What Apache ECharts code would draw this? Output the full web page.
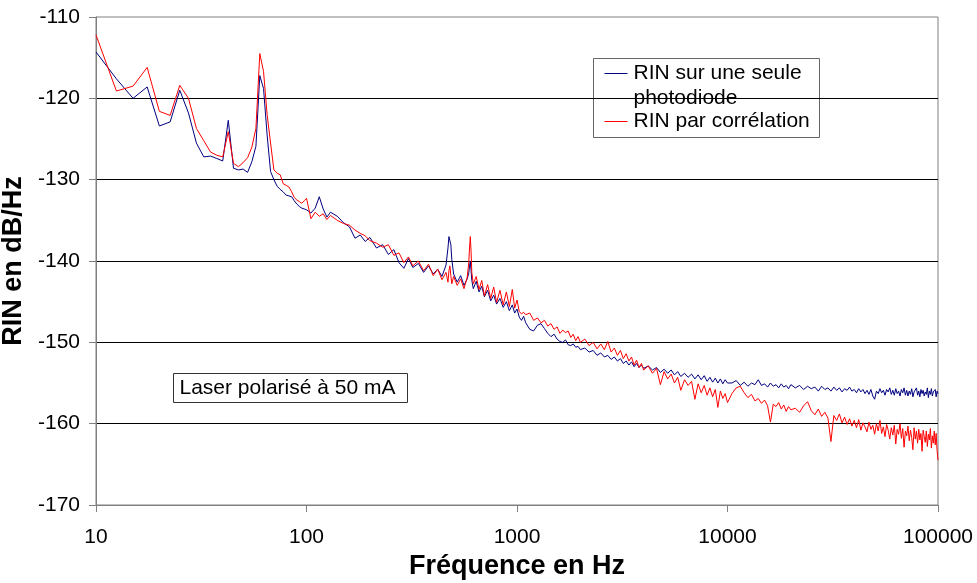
<!DOCTYPE html>
<html>
<head>
<meta charset="utf-8">
<script src="https://cdn.jsdelivr.net/npm/echarts@6/dist/echarts.min.js"></script>
<style>
  html, body { margin: 0; padding: 0; background: #fff; }
  #chart { width: 977px; height: 583px; }
</style>
</head>
<body>
<div id="chart"></div>
<script>
// axis ticks
const yTicks = [-170, -160, -150, -140, -130, -120, -110];

// 10 - 100 Hz
const freqLow = [10, 12.5, 15, 17.5, 20, 22.5, 25, 27.5, 30, 32.5, 35, 37.5, 40, 42.5, 45, 47.5, 50, 52.5, 55, 57.5,
  60, 62.5, 65, 67.5, 70, 72.5, 75, 77.5, 80, 82.5, 85, 87.5, 90, 92.5, 95, 97.5, 100];
const blueLow = [-114.3, -117.6, -120.0, -118.6, -123.4, -122.9, -119.0, -121.8, -125.5, -127.2, -127.1, -127.4, -127.7, -122.7,
  -128.6, -128.8, -128.7, -129.1, -127.8, -125.9, -117.2, -118.8, -124.5, -129.0, -130.0, -130.8, -131.2, -131.5, -131.9,
  -132.0, -132.1, -132.6, -133.0, -133.3, -133.5, -133.6, -133.7];
const redLow = [-112.2, -119.1, -118.5, -116.2, -121.6, -122.1, -118.4, -120.0, -123.7, -125.2, -126.6, -127.0, -127.2, -124.1,
  -128.0, -128.4, -127.9, -127.3, -126.0, -123.7, -114.5, -116.7, -122.0, -125.5, -128.8, -129.2, -129.4, -130.5, -130.7,
  -130.9, -131.5, -132.2, -132.5, -132.7, -132.9, -132.6, -132.3];

// 100 - 1000 Hz
const freqMid = [105, 110, 115, 120, 125, 130, 140, 150, 160, 170, 180, 190, 200, 215, 230, 245, 260, 275, 290, 305,
  320, 340, 360, 380, 400, 420, 440, 460, 470, 475, 480, 485, 490, 500, 520, 540, 560, 580, 590, 595,
  600, 605, 610, 620, 640, 660, 680, 700, 725, 750, 775, 800, 830, 860, 890, 920, 950, 975, 1000];
const blueMid = [-134.1, -133.5, -132.1, -133.6, -134.6, -134.0, -134.5, -135.3, -135.8, -137.2, -136.8, -137.6, -137.1, -138.4,
  -138.0, -139.2, -138.6, -140.2, -140.9, -139.7, -140.8, -140.3, -141.4, -140.6, -141.6, -141.0, -141.9, -140.5, -138.4,
  -137.0, -137.2, -138.0, -139.8, -141.6, -142.6, -141.8, -143.0, -142.2, -141.5, -140.6, -140.0, -141.2, -142.4, -143.4,
  -142.5, -143.8, -143.1, -144.4, -143.6, -144.9, -144.2, -145.3, -144.6, -145.7, -145.0, -146.1, -145.4, -146.4, -145.9];
const redMid = [-134.8, -134.0, -134.5, -134.2, -134.9, -134.4, -135.0, -135.4, -135.6, -136.2, -136.6, -136.9, -137.5, -137.8,
  -138.3, -138.0, -139.3, -139.0, -140.2, -139.5, -140.6, -140.0, -141.2, -140.4, -141.8, -141.0, -142.3, -141.4, -142.6,
  -141.2, -140.6, -141.8, -142.8, -141.9, -143.0, -142.2, -143.4, -142.0, -140.2, -138.4, -137.0, -138.8, -141.4, -142.8,
  -141.9, -143.5, -142.4, -144.3, -142.9, -144.6, -143.2, -145.1, -143.6, -145.4, -143.8, -145.6, -143.5, -145.8, -144.8];

// 1 kHz - 10 kHz
const freqHigh = [1025, 1050, 1075, 1100, 1150, 1200, 1250, 1300, 1350, 1400, 1450, 1500, 1550, 1600, 1650, 1700, 1750,
  1800, 1850, 1900, 1950, 2000, 2100, 2200, 2300, 2400, 2500, 2600, 2700, 2800, 2900, 3000, 3100, 3200, 3300, 3400,
  3500, 3600, 3700, 3800, 3900, 4000, 4200, 4400, 4600, 4800, 5000, 5200, 5400, 5600, 5800, 6000, 6250, 6500, 6750,
  7000, 7250, 7500, 7750, 8000, 8250, 8500, 8750, 9000, 9250, 9500, 9750, 10000];
const blueHigh = [-146.9, -147.3, -146.8, -147.6, -148.4, -148.6, -147.9, -147.7, -148.3, -148.9, -149.3, -149.0, -149.6,
  -149.9, -150.0, -149.7, -150.3, -150.4, -150.2, -150.6, -150.5, -150.9, -150.7, -151.2, -151.0, -151.6, -151.3, -151.8,
  -151.6, -152.1, -151.8, -152.3, -152.0, -152.6, -152.3, -152.8, -152.4, -153.0, -152.6, -153.1, -152.8, -153.2, -152.9,
  -153.4, -153.1, -153.7, -153.3, -153.8, -153.4, -154.0, -153.6, -154.2, -153.8, -154.3, -153.9, -154.5, -154.0, -154.6,
  -154.1, -154.8, -154.3, -154.9, -154.4, -155.0, -154.5, -155.1, -154.6, -155.0];
const redHigh = [-146.2, -146.5, -146.3, -146.6, -146.4, -147.3, -147.0, -147.6, -147.3, -148.0, -147.7, -148.4, -148.1,
  -148.9, -148.5, -148.8, -148.6, -149.4, -149.0, -149.8, -149.3, -150.0, -149.6, -150.4, -150.0, -150.8, -150.2, -150.9,
  -149.9, -151.2, -150.7, -151.6, -151.0, -152.0, -151.4, -152.3, -151.8, -152.8, -152.2, -153.1, -152.6, -153.4, -152.9,
  -153.8, -153.2, -155.2, -153.6, -154.5, -153.9, -155.0, -154.3, -155.9, -154.6, -155.3, -154.8, -157.0, -155.1, -156.2,
  -155.3, -156.5, -155.6, -156.7, -155.8, -158.0, -156.0, -156.9, -156.3, -157.4];

// 10 kHz - 100 kHz
const freqTop = [10500, 11000, 11500, 12000, 12500, 13000, 13500, 14000, 14500, 15000, 15500, 16000, 16500, 17000, 17500,
  18000, 18500, 19000, 19500, 20000,
  21000, 22000, 23000, 24000, 25000, 26000, 27000, 28000, 29000, 30000,
  31000, 32000, 33000, 34000, 35000, 36000, 37000, 38000, 39000, 40000,
  41000, 42000, 43000, 44000, 45000, 46000, 47000, 48000, 49000, 50000,
  51000, 52000, 53000, 54000, 55000, 56000, 57000, 58000, 59000, 60000,
  61000, 62000, 63000, 64000, 65000, 66000, 67000, 68000, 69000, 70000,
  71000, 72000, 73000, 74000, 75000, 76000, 77000, 78000, 79000, 80000,
  81000, 82000, 83000, 84000, 85000, 86000, 87000, 88000, 89000, 90000,
  91000, 92000, 93000, 94000, 95000, 96000, 97000, 98000, 99000, 100000];
const blueTop = [-155.0, -154.7, -155.3, -154.9, -155.4, -155.0, -155.2, -154.6, -155.3, -155.1, -155.5, -155.0, -155.4,
  -155.2, -155.6, -155.1, -155.5, -155.3, -155.7, -155.2,
  -155.6, -155.3, -155.8, -155.4, -155.7, -155.5, -156.0, -155.4, -155.8, -155.6,
  -156.0, -155.5, -155.9, -155.6, -156.1, -155.7, -155.9, -155.5, -156.0, -155.8,
  -156.2, -155.7, -156.1, -155.8, -156.3, -155.9, -156.4, -155.8, -156.6, -157.0,
  -156.0, -156.3, -155.7, -156.2, -155.9, -156.5, -155.8, -156.1, -155.6, -156.4,
  -155.9, -156.5, -155.7, -156.3, -156.0, -156.6, -155.8, -156.2, -155.6, -156.5,
  -155.9, -156.6, -156.0, -156.4, -155.7, -156.7, -156.1, -156.3, -155.6, -156.5,
  -156.0, -156.7, -155.8, -156.3, -155.9, -156.6, -156.1, -156.4, -155.6, -156.8,
  -156.0, -156.4, -155.7, -156.6, -156.1, -156.3, -155.8, -156.7, -156.0, -156.3];
const redTop = [-156.3, -155.6, -155.4, -156.2, -156.8, -156.4, -157.2, -156.9, -157.5, -157.1, -157.8, -159.8, -157.6,
  -157.9, -157.4, -158.2, -157.7, -158.5, -157.9, -158.3,
  -158.1, -158.6, -157.8, -157.3, -158.4, -158.9, -158.2, -159.1, -158.6, -159.3,
  -162.2, -159.0, -159.6, -158.8, -159.9, -159.2, -160.1, -159.4, -160.3, -159.6,
  -160.5, -159.5, -160.8, -159.9, -160.4, -161.0, -159.8, -160.7, -160.2, -161.3,
  -160.0, -160.9, -159.6, -161.2, -160.4, -161.6, -160.1, -160.8, -161.9, -160.5,
  -161.4, -160.2, -162.5, -160.7, -161.3, -160.0, -161.8, -160.6, -162.9, -160.9,
  -161.5, -160.3, -162.1, -160.8, -161.7, -163.2, -160.5, -161.9, -160.9, -162.4,
  -160.7, -162.0, -161.2, -163.4, -160.8, -161.6, -162.3, -160.9, -162.8, -161.3,
  -162.0, -160.6, -163.0, -161.5, -162.4, -160.9, -162.6, -161.2, -163.3, -164.5];

const seriesNames = ['RIN sur une seule photodiode', 'RIN par corrélation'];
const seriesColors = ['#000080', '#ff0000'];

const freq = [].concat(freqLow, freqMid, freqHigh, freqTop);
const blue = [].concat(blueLow, blueMid, blueHigh, blueTop);
const red = [].concat(redLow, redMid, redHigh, redTop);

const pairs = (xs, ys) => xs.map((x, i) => [x, ys[i]]);

const FONT = "'Liberation Sans', Arial, sans-serif";
const chart = echarts.init(document.getElementById('chart'));

const option = {
  animation: false,
  backgroundColor: '#fff',
  grid: {
    left: 96, right: 39, top: 17, bottom: 78,
    outerBoundsMode: 'none',
    containLabel: false,
    show: true, borderColor: '#808080', borderWidth: 1, backgroundColor: 'transparent'
  },
  xAxis: {
    type: 'log',
    logBase: 10,
    min: 10,
    max: 100000,
    name: 'Fréquence en Hz',
    nameLocation: 'middle',
    nameGap: 42,
    nameTextStyle: { fontFamily: FONT, fontSize: 27, fontWeight: 'bold', color: '#000' },
    axisLine: { lineStyle: { color: '#808080', width: 1 } },
    axisTick: { show: true, inside: false, length: 7, lineStyle: { color: '#808080' } },
    axisLabel: {
      fontFamily: FONT, fontSize: 21, color: '#000', margin: 22,
      formatter: (v) => String(Math.round(v))
    },
    splitLine: { show: false },
    minorTick: { show: false }
  },
  yAxis: {
    type: 'value',
    min: yTicks[0],
    max: yTicks[yTicks.length - 1],
    interval: 10,
    name: 'RIN en dB/Hz',
    nameLocation: 'middle',
    nameGap: 58,
    nameTextStyle: { fontFamily: FONT, fontSize: 27, fontWeight: 'bold', color: '#000' },
    axisLine: { show: true, lineStyle: { color: '#808080', width: 1 } },
    axisTick: { show: true, inside: false, length: 7, lineStyle: { color: '#808080' } },
    axisLabel: { fontFamily: FONT, fontSize: 21, color: '#000', margin: 16 },
    splitLine: { show: true, showMinLine: false, showMaxLine: false, lineStyle: { color: '#000', width: 1 } }
  },
  series: [
    {
      name: seriesNames[0],
      type: 'line',
      data: pairs(freq, blue),
      showSymbol: false,
      symbol: 'none',
      lineStyle: { color: seriesColors[0], width: 1 },
      itemStyle: { color: seriesColors[0] },
      z: 2
    },
    {
      name: seriesNames[1],
      type: 'line',
      data: pairs(freq, red),
      showSymbol: false,
      symbol: 'none',
      lineStyle: { color: seriesColors[1], width: 1 },
      itemStyle: { color: seriesColors[1] },
      z: 3
    }
  ],
  graphic: [
    // legend box
    {
      type: 'group', left: 593, top: 58, z: 100,
      children: [
        { type: 'rect', shape: { x: 0, y: 0, width: 226, height: 79 }, style: { fill: '#fff', stroke: '#666', lineWidth: 1 } },
        { type: 'line', shape: { x1: 11, y1: 15, x2: 34, y2: 15 }, style: { stroke: seriesColors[0], lineWidth: 1 } },
        { type: 'text', x: 40, y: 15, style: { text: 'RIN sur une seule', font: '21px ' + FONT, fill: '#000', verticalAlign: 'middle' } },
        { type: 'text', x: 40, y: 40, style: { text: 'photodiode', font: '21px ' + FONT, fill: '#000', verticalAlign: 'middle' } },
        { type: 'line', shape: { x1: 11, y1: 63, x2: 34, y2: 63 }, style: { stroke: seriesColors[1], lineWidth: 1 } },
        { type: 'text', x: 40, y: 63, style: { text: 'RIN par corrélation', font: '21px ' + FONT, fill: '#000', verticalAlign: 'middle' } }
      ]
    },
    // annotation
    {
      type: 'group', left: 173, top: 373, z: 100,
      children: [
        { type: 'rect', shape: { x: 0, y: 0, width: 234, height: 29 }, style: { fill: '#fff', stroke: '#333', lineWidth: 1 } },
        { type: 'text', x: 6, y: 15, style: { text: 'Laser polarisé à 50 mA', font: '21px ' + FONT, fill: '#000', verticalAlign: 'middle' } }
      ]
    }
  ]
};

chart.setOption(option);
window.addEventListener('resize', () => chart.resize());
</script>
</body>
</html>
